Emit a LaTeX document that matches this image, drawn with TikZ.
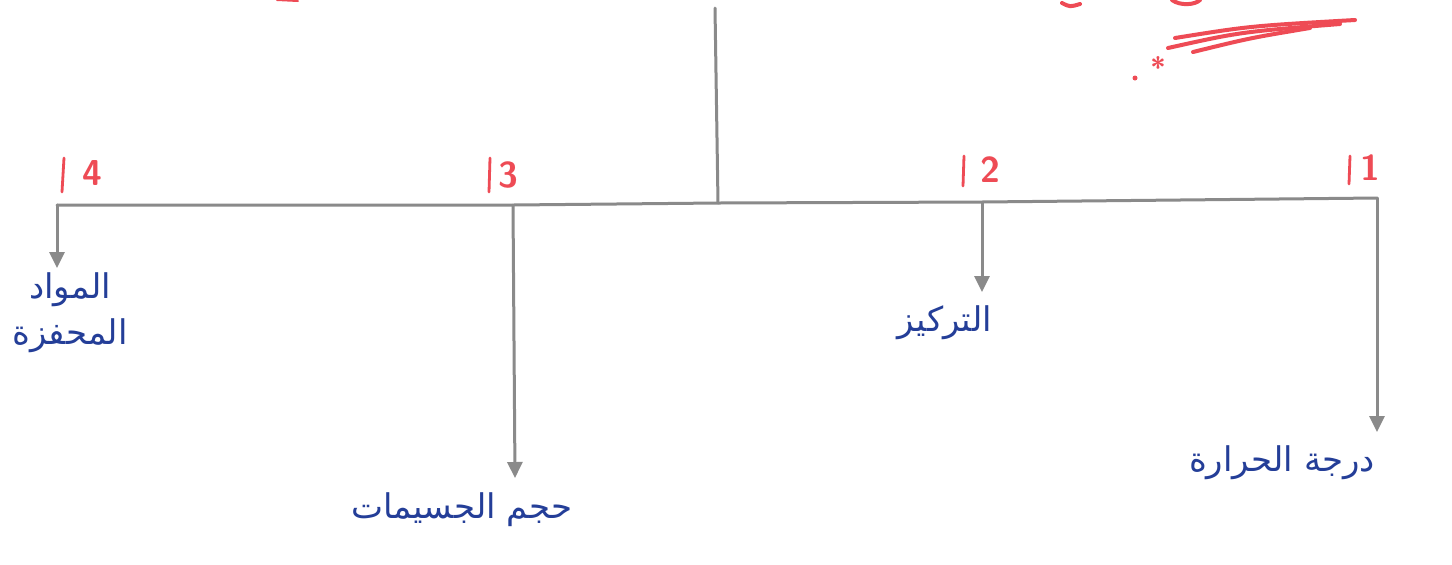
\documentclass[tikz,border=0pt]{standalone}
\usepackage{fontspec}
\usetikzlibrary{arrows.meta}
\TeXXeTstate=1
\newfontfamily\arabicfont[Script=Arabic]{DejaVu Sans}
\definecolor{pencil}{HTML}{8A8A8A}
\definecolor{inkred}{HTML}{EE4B55}
\definecolor{inkblue}{HTML}{243E98}
\tikzset{
  trunk/.style={draw=pencil, line width=1.5pt, line cap=round},
  branch/.style={draw=pencil, line width=1.5pt, line cap=round,
    -{Triangle[width=7.5pt,length=8pt]}},
  factor/.style={text=inkblue, font=\arabicfont\fontsize{17}{23}\selectfont, align=center, inner sep=0pt},
  num/.style={text=inkred, font=\sffamily\bfseries\fontsize{18}{18}\selectfont, inner sep=0pt},
  numbar/.style={draw=inkred, line width=1.4pt, line cap=round},
  redstroke/.style={draw=inkred, line width=2pt, line cap=round}
}
\begin{document}
\begin{tikzpicture}[x=0.5pt,y=-0.5pt]
  \useasboundingbox (0,0) rectangle (1452,564);
  \fill[white] (0,0) rectangle (1452,564);

  % stem and bar
  \coordinate (top) at (715,8);
  \coordinate (hub) at (718,203);
  \coordinate (b4) at (57,205);
  \coordinate (b3) at (513,205);
  \coordinate (b2) at (982,202);
  \coordinate (b1) at (1377,198);
  \draw[trunk] (top) -- (hub);
  \draw[trunk] (b4) -- (b3) -- (hub) -- (b2) -- (b1);

  % labels
  \node[factor, anchor=north] (f4) at (70,272) {\beginR المواد\endR\\\beginR المحفزة\endR};
  \node[factor, anchor=north] (f3) at (462,492) {\beginR حجم الجسيمات\endR};
  \node[factor, anchor=north] (f2) at (945,305) {\beginR التركيز\endR};
  \node[factor, anchor=north] (f1) at (1282,445) {\beginR درجة الحرارة\endR};

  % arrows
  \coordinate (e4) at (57,268);
  \coordinate (e3) at (515,478);
  \coordinate (e2) at (982,292);
  \coordinate (e1) at (1377,432);
  \draw[branch] (b4) -- (e4);
  \draw[branch] (b3) -- (e3);
  \draw[branch] (b2) -- (e2);
  \draw[branch] (b1) -- (e1);

  % numbering
  \draw[numbar] (64,158) -- (62,192);
  \node[num] (n4) at (92,173) {4};
  \draw[numbar] (490,158) -- (489,192);
  \node[num] (n3) at (508,175) {3};
  \draw[numbar] (964,156) -- (963,186);
  \node[num] (n2) at (990,170) {2};
  \draw[numbar] (1350,156) -- (1349,184);
  \node[num] (n1) at (1370,168) {1};

  % red underline strokes and asterisk
  \draw[redstroke] (1175,38) .. controls (1250,26) .. (1355,20);
  \draw[redstroke] (1168,48) .. controls (1240,32) .. (1340,24);
  \draw[redstroke] (1193,52) .. controls (1250,38) .. (1310,28);
  \node[text=inkred, font=\sffamily\bfseries\fontsize{14}{14}\selectfont, inner sep=0pt] (ast) at (1158,67) {*};
  \fill[inkred] (1135,78) circle (2.5);

  % cut-off red writing along the top edge
  \draw[redstroke] (1062,3) .. controls (1070,7) .. (1080,4);
  \draw[redstroke] (1172,0) .. controls (1180,6) and (1195,5) .. (1200,0);
  \draw[redstroke, line width=1pt] (277,0) -- (298,1);
\end{tikzpicture}
\end{document}
